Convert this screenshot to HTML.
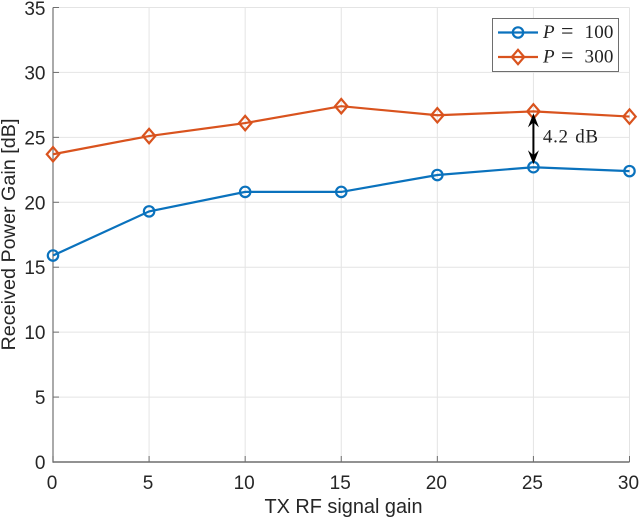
<!DOCTYPE html>
<html>
<head>
<meta charset="utf-8">
<title>Received Power Gain vs TX RF signal gain</title>
<style>
html,body{margin:0;padding:0;background:#fff;width:640px;height:520px;overflow:hidden}
svg{display:block}
text{font-family:"Liberation Sans",sans-serif;fill:#262626}
.math{font-family:"Liberation Serif",serif;fill:#222}
</style>
</head>
<body>
<svg id="chart" xmlns="http://www.w3.org/2000/svg" width="640" height="520" viewBox="0 0 640 520"></svg>
<script>
const xValues = [0, 5, 10, 15, 20, 25, 30];
const seriesP100 = [15.9, 19.3, 20.8, 20.8, 22.1, 22.7, 22.4];
const seriesP300 = [23.7, 25.1, 26.1, 27.4, 26.7, 27.0, 26.6];
const xTicks = [0, 5, 10, 15, 20, 25, 30];
const yTicks = [0, 5, 10, 15, 20, 25, 30, 35];
const annotationX = [25];
const annotationLabel = ['4.2 dB'];

const svg = document.getElementById('chart');
const NS = 'http://www.w3.org/2000/svg';
const left = 53, right = 629.5, top_ = 7.5, bottom = 462;
const xMin = 0, xMax = 30, yMin = 0, yMax = 35;
function sx(v){ return left + (v - xMin) / (xMax - xMin) * (right - left); }
function sy(v){ return bottom - (v - yMin) / (yMax - yMin) * (bottom - top_); }
function make(tag, attrs, parent){
  const el = document.createElementNS(NS, tag);
  for (const k in attrs) el.setAttribute(k, attrs[k]);
  (parent || svg).appendChild(el);
  return el;
}
const BLUE = '#0a72bd', ORANGE = '#d9531e', AXIS = '#6e6e6e', GRID = '#e4e4e4';

// grid
const gridGroup = make('g', {});


xTicks.forEach(function(t){
  const l = make('line', {x1: sx(t), x2: sx(t), y1: top_, y2: bottom, stroke: GRID, 'stroke-width': 1}, gridGroup);
  
  
});
yTicks.forEach(function(t){
  const l = make('line', {x1: left, x2: right, y1: sy(t), y2: sy(t), stroke: GRID, 'stroke-width': 1}, gridGroup);
  
  
});

// axes
const yAxis = make('line', {x1: left, x2: left, y1: top_, y2: bottom + 0.7, stroke: '#858585', 'stroke-width': 1.4});


const xAxis = make('line', {x1: left, x2: right, y1: bottom, y2: bottom, stroke: AXIS, 'stroke-width': 1.4});



// ticks and labels
xTicks.forEach(function(t){
  const tick = make('line', {x1: sx(t), x2: sx(t), y1: bottom, y2: bottom - 6, stroke: AXIS, 'stroke-width': 1});
  
  
  const lab = make('text', {x: sx(t) - 1, y: 489, 'text-anchor': 'middle', 'font-size': 19});
  lab.textContent = t;
  
  
});
yTicks.forEach(function(t){
  const tick = make('line', {x1: left, x2: left + 6, y1: sy(t), y2: sy(t), stroke: AXIS, 'stroke-width': 1});
  
  
  const lab = make('text', {x: 45.5, y: Math.max(sy(t) + 7, 15), 'text-anchor': 'end', 'font-size': 19});
  lab.textContent = t;
  
  
});

// axis titles
const xTitle = make('text', {x: 343.5, y: 513, 'text-anchor': 'middle', 'font-size': 19.9});
xTitle.textContent = 'TX RF signal gain';


const yTitle = make('text', {x: 0, y: 0, 'text-anchor': 'middle', 'font-size': 19.8, transform: 'translate(15 234.5) rotate(-90)'});
yTitle.textContent = 'Received Power Gain [dB]';



function circleMarker(cx, cy, parent){
  return make('circle', {cx: cx, cy: cy, r: 5.2, fill: 'none', stroke: BLUE, 'stroke-width': 2.2}, parent);
}
function diamondMarker(cx, cy, parent){
  const s = 7.2;
  return make('polygon', {points: [cx, cy - s, cx + s * 0.86, cy, cx, cy + s, cx - s * 0.86, cy].join(','), fill: 'none', stroke: ORANGE, 'stroke-width': 2.2}, parent);
}

// series P=100
const g100 = make('g', {});


const line100 = make('polyline', {points: xValues.map(function(x, i){ return sx(x) + ',' + sy(seriesP100[i]); }).join(' '), fill: 'none', stroke: BLUE, 'stroke-width': 2.2}, g100);


xValues.forEach(function(x, i){
  const m = circleMarker(sx(x), sy(seriesP100[i]), g100);
  
  
});

// series P=300
const g300 = make('g', {});


const line300 = make('polyline', {points: xValues.map(function(x, i){ return sx(x) + ',' + sy(seriesP300[i]); }).join(' '), fill: 'none', stroke: ORANGE, 'stroke-width': 2.2}, g300);


xValues.forEach(function(x, i){
  const m = diamondMarker(sx(x), sy(seriesP300[i]), g300);
  
  
});

// annotation arrow
const annIdx = xValues.indexOf(annotationX[0]);
const ax = sx(annotationX[0]);
const ay1 = sy(seriesP300[annIdx]) + 2;
const ay2 = sy(seriesP100[annIdx]) - 3;
const ann = make('g', {});


const shaft = make('line', {x1: ax, x2: ax, y1: ay1 + 4, y2: ay2 - 4, stroke: '#000', 'stroke-width': 2}, ann);


const headUp = make('polygon', {points: [ax, ay1, ax + 5.5, ay1 + 14, ax, ay1 + 9, ax - 5.5, ay1 + 14].join(','), fill: '#000'}, ann);


const headDown = make('polygon', {points: [ax, ay2, ax + 5.5, ay2 - 14, ax, ay2 - 9, ax - 5.5, ay2 - 14].join(','), fill: '#000'}, ann);


const annText = make('text', {x: ax + 9.5, y: 142.5, 'font-size': 19, 'letter-spacing': 0.7, 'word-spacing': 1, class: 'math'}, ann);
annText.textContent = annotationLabel[0];



// legend
const legend = make('g', {});


const box = make('rect', {x: 492.5, y: 18.5, width: 126, height: 53, fill: '#fff', stroke: '#6e6e6e', 'stroke-width': 1}, legend);



const e1 = make('g', {}, legend);


make('line', {x1: 498, x2: 538, y1: 32.5, y2: 32.5, stroke: BLUE, 'stroke-width': 2.2}, e1);
circleMarker(518, 32.5, e1);
const t1 = make('text', {x: 543, y: 38, 'font-size': 19, class: 'math'}, e1);
t1.innerHTML = '<tspan font-style="italic">P</tspan><tspan x="561" font-size="22">=</tspan><tspan x="584.5" letter-spacing="0.2">100</tspan>';

const e2 = make('g', {}, legend);


make('line', {x1: 498, x2: 538, y1: 57, y2: 57, stroke: ORANGE, 'stroke-width': 2.2}, e2);
diamondMarker(518, 57, e2);
const t2 = make('text', {x: 543, y: 62.5, 'font-size': 19, class: 'math'}, e2);
t2.innerHTML = '<tspan font-style="italic">P</tspan><tspan x="561" font-size="22">=</tspan><tspan x="584.5" letter-spacing="0.2">300</tspan>';
</script>
</body>
</html>
